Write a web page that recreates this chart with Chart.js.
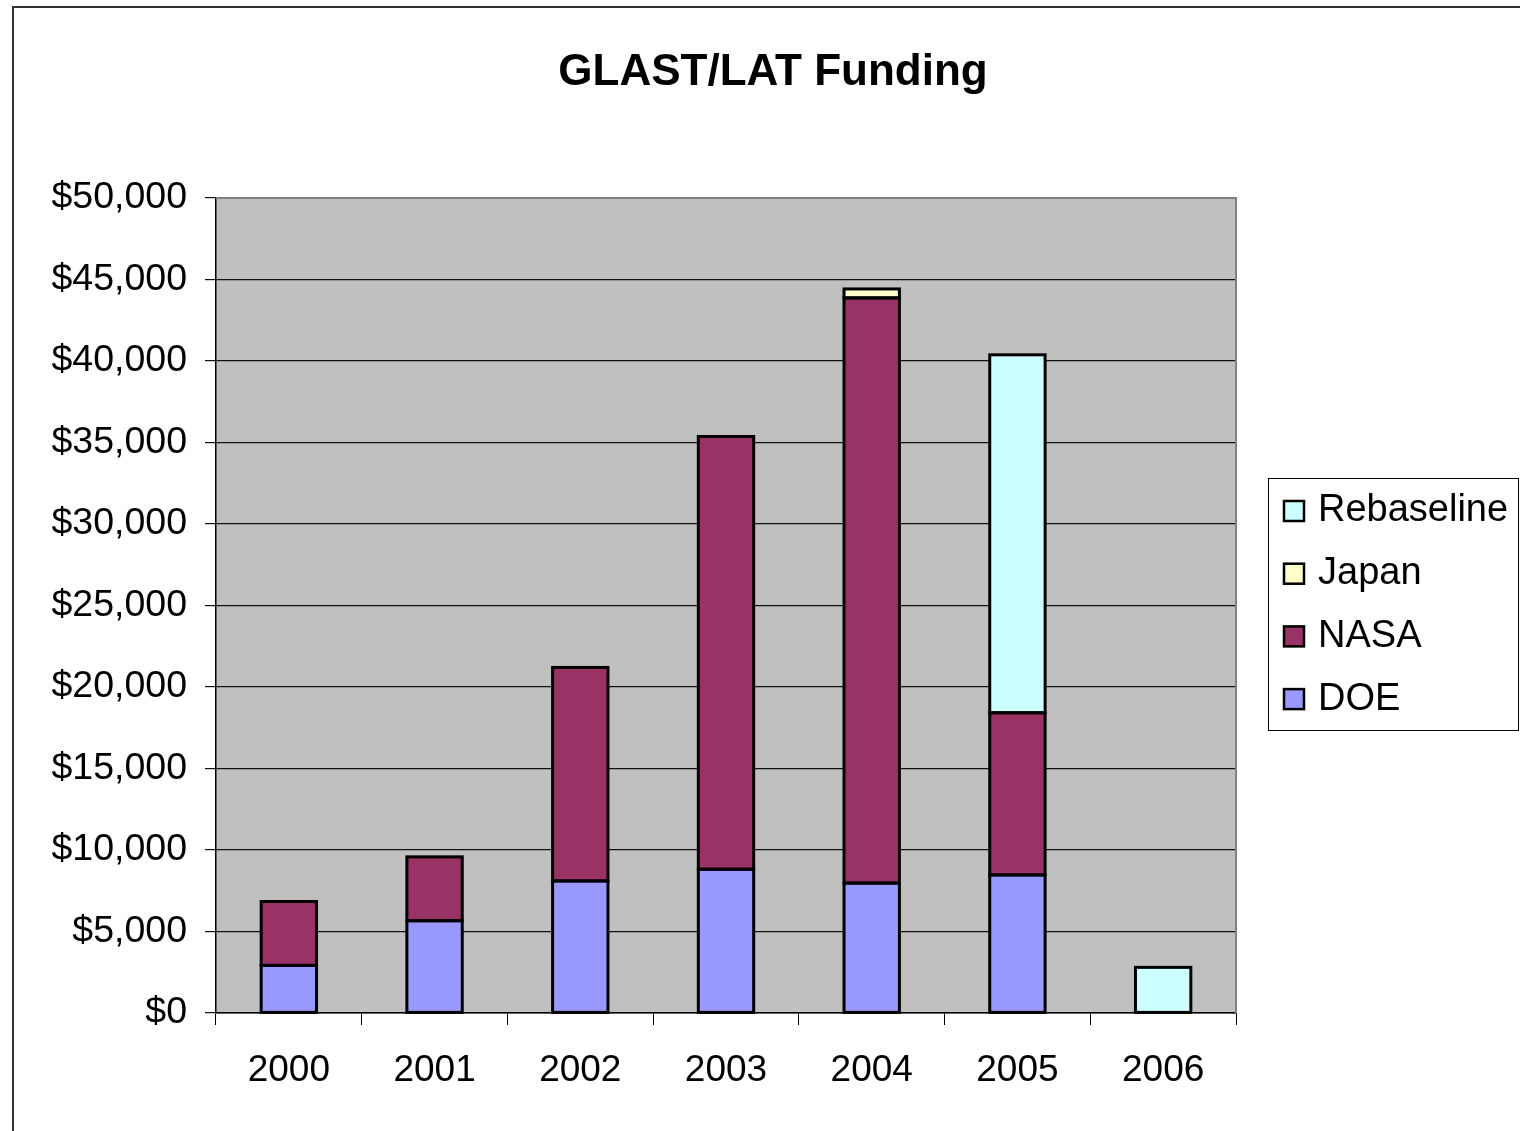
<!DOCTYPE html>
<html>
<head>
<meta charset="utf-8">
<title>GLAST/LAT Funding</title>
<script src="https://cdn.jsdelivr.net/npm/chart.js@4.4.1/dist/chart.umd.min.js"></script>
<style>
  html, body { margin: 0; padding: 0; background: #fff; overflow: hidden; }
  canvas { display: block; }
</style>
</head>
<body>
<canvas id="fundingChart" width="1520" height="1131"></canvas>
<script>
// ---------------- DATA ----------------
const years = ["2000", "2001", "2002", "2003", "2004", "2005", "2006"];
const doeFunds = [2920, 5660, 8100, 8820, 7970, 8470, null];
const nasaFunds = [3920, 3920, 13100, 26550, 35900, 9950, null];
const japanFunds = [null, null, null, null, 550, null, null];
const rebaselineFunds = [null, null, null, null, null, 21960, 2800];
const yTicks = [0, 5000, 10000, 15000, 20000, 25000, 30000, 35000, 40000, 45000, 50000];

const FONT = "'Liberation Sans', Arial, sans-serif";

// legend order as drawn in the box (top to bottom)
const legendItems = [
  { label: "Rebaseline", color: "#CCFFFF" },
  { label: "Japan", color: "#FFFFCC" },
  { label: "NASA", color: "#993366" },
  { label: "DOE", color: "#9999FF" }
];

// ---------------- DECORATION PLUGIN ----------------
const excelFrame = {
  id: "excelFrame",
  beforeDraw(chart) {
    const ctx = chart.ctx;
    const a = chart.chartArea;
    ctx.save();
    ctx.fillStyle = "#fff";
    ctx.fillRect(0, 0, chart.width, chart.height);
    // outer chart border (runs off right/bottom)
    ctx.strokeStyle = "#333";
    ctx.lineWidth = 2;
    ctx.strokeRect(13, 7, 1600, 1300);
    // plot area
    ctx.fillStyle = "#C0C0C0";
    ctx.fillRect(a.left, a.top, a.right - a.left, a.bottom - a.top);
    ctx.restore();
  },
  afterDatasetsDraw(chart) {
    // outline every bar segment with a centred black stroke, like Excel
    const ctx = chart.ctx;
    ctx.save();
    ctx.strokeStyle = "#000";
    ctx.lineWidth = 3;
    chart.data.datasets.forEach((ds, i) => {
      chart.getDatasetMeta(i).data.forEach((bar, j) => {
        if (ds.data[j] == null) return;
        const p = bar.getProps(["x", "y", "base", "width"], true);
        ctx.strokeRect(p.x - p.width / 2, p.y, p.width, p.base - p.y);
      });
    });
    ctx.restore();
  },
  afterDraw(chart) {
    const ctx = chart.ctx;
    const a = chart.chartArea;
    ctx.save();
    // plot area frame, gray top and right
    ctx.strokeStyle = "#808080";
    ctx.lineWidth = 2;
    ctx.beginPath();
    ctx.moveTo(a.left, a.top);
    ctx.lineTo(a.right, a.top);
    ctx.lineTo(a.right, a.bottom);
    ctx.stroke();

    // title
    ctx.fillStyle = "#000";
    ctx.font = "bold 44px " + FONT;
    ctx.textAlign = "center";
    ctx.textBaseline = "middle";
    ctx.fillText("GLAST/LAT Funding", 773, 73);

    // legend box
    ctx.lineWidth = 1;
    ctx.strokeStyle = "#000";
    ctx.strokeRect(1268.5, 478.5, 250, 252);
    ctx.font = "38px " + FONT;
    ctx.textAlign = "left";
    legendItems.forEach((item, i) => {
      const cy = 511 + i * 62.7;
      ctx.fillStyle = item.color;
      ctx.fillRect(1284, cy - 10, 20, 20);
      ctx.lineWidth = 2.5;
      ctx.strokeRect(1284, cy - 10, 20, 20);
      ctx.fillStyle = "#000";
      ctx.fillText(item.label, 1318, cy);
    });
    ctx.restore();
  }
};

// ---------------- CHART ----------------
function barSet(label, data, color) {
  return {
    label: label,
    data: data,
    backgroundColor: color,
    borderWidth: 0,
    barPercentage: 0.38,
    categoryPercentage: 1.0
  };
}

const ctx = document.getElementById("fundingChart").getContext("2d");
new Chart(ctx, {
  type: "bar",
  data: {
    labels: years,
    datasets: [
      barSet("DOE", doeFunds, "#9999FF"),
      barSet("NASA", nasaFunds, "#993366"),
      barSet("Japan", japanFunds, "#FFFFCC"),
      barSet("Rebaseline", rebaselineFunds, "#CCFFFF")
    ]
  },
  options: {
    responsive: false,
    animation: false,
    devicePixelRatio: 1,
    layout: { padding: { top: 198, right: 284, left: 0, bottom: 0 } },
    plugins: {
      legend: { display: false },
      title: { display: false },
      tooltip: { enabled: false }
    },
    scales: {
      x: {
        stacked: true,
        afterFit: scale => { scale.height = 118; },
        grid: {
          drawOnChartArea: false,
          drawTicks: true,
          tickLength: 12,
          color: "#000",
          lineWidth: 1
        },
        border: { color: "#000", width: 1.5 },
        ticks: {
          color: "#000",
          padding: 24,
          font: { family: FONT, size: 37 }
        }
      },
      y: {
        stacked: true,
        min: 0,
        max: 50000,
        afterFit: scale => { scale.width = 216; },
        afterBuildTicks: scale => { scale.ticks = yTicks.map(v => ({ value: v })); },
        grid: {
          color: "#111",
          lineWidth: 1.2,
          tickLength: 11
        },
        border: { color: "#000", width: 1.5 },
        ticks: {
          color: "#000",
          padding: 18,
          font: { family: FONT, size: 37.5 },
          callback: value => "$" + value.toLocaleString("en-US")
        }
      }
    }
  },
  plugins: [excelFrame]
});
</script>
</body>
</html>
